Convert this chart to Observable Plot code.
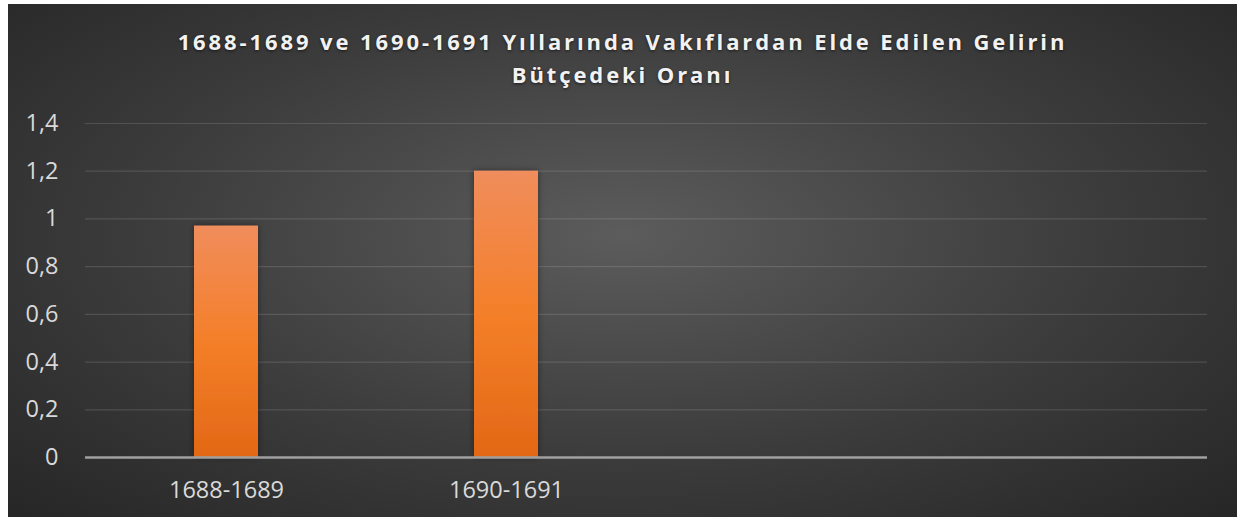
<!DOCTYPE html>
<html>
<head>
<meta charset="utf-8">
<script src="https://cdn.jsdelivr.net/npm/d3@7"></script>
<script src="https://cdn.jsdelivr.net/npm/@observablehq/plot@0.6"></script>
<style>
  html, body { margin: 0; padding: 0; background: #ffffff; }
  #frame {
    position: absolute; left: 8px; top: 4px; width: 1229px; height: 513px;
    background: radial-gradient(ellipse farthest-corner at 50% 45%, #5c5c5c 0%, #3c3c3c 55%, #262626 100%);
    overflow: hidden;
  }
  #title {
    height: 100px; box-sizing: border-box; padding-top: 21px;
    text-align: center; color: #f2f2f2;
    font-family: "Open Sans", sans-serif; font-weight: 700; font-size: 22px;
    letter-spacing: 2.9px; line-height: 33px;
    text-shadow: 0 1px 3px rgba(0,0,0,0.6);
  }
  #chart svg { display: block; background: transparent; }
</style>
</head>
<body>
<div id="frame">
  <div id="title">1688-1689 ve 1690-1691 Yıllarında Vakıflardan Elde Edilen Gelirin<br>Bütçedeki Oranı</div>
  <div id="chart"></div>
</div>
<script>
const categories = ["1688-1689", "1690-1691"];
const emptySlots = ["_slot3", "_slot4"];
const values = [0.97, 1.2];
const yTicks = [0, 0.2, 0.4, 0.6, 0.8, 1, 1.2, 1.4];

const data = categories.map((c, i) => ({category: c, value: values[i]}));

const chart = Plot.plot({
  width: 1229,
  height: 413,
  marginTop: 19,
  marginBottom: 60,
  marginLeft: 77,
  marginRight: 30,
  style: {background: "transparent", color: "#d9d9d9", fontFamily: "Open Sans, sans-serif", fontSize: "23.5px"},
  x: {domain: [...categories, ...emptySlots], paddingInner: 0.772, paddingOuter: 0.386, label: null},
  y: {domain: [0, 1.4], label: null},
  marks: [
    Plot.ruleY(yTicks.filter(d => d !== 0), {stroke: "#d9d9d9", strokeOpacity: 0.16, strokeWidth: 1.2}),
    Plot.barY(data, {x: "category", y: "value", fill: "url(#barGrad)", className: "bars"}),
    Plot.ruleY([0], {stroke: "#a0a0a0", strokeWidth: 2.5}),
    Plot.axisY({ticks: yTicks, tickSize: 0, tickPadding: 27, tickFormat: d => String(d).replace(".", ","), fill: "#d9d9d9"}),
    Plot.axisX({tickSize: 0, tickPadding: 24, tickFormat: d => d.startsWith("_") ? "" : d, fill: "#d9d9d9"})
  ]
});

const ns = "http://www.w3.org/2000/svg";
const defs = document.createElementNS(ns, "defs");
defs.innerHTML = `
  <linearGradient id="barGrad" x1="0" y1="0" x2="0" y2="1">
    <stop offset="0%" stop-color="#f08d5c"/>
    <stop offset="50%" stop-color="#f47f29"/>
    <stop offset="100%" stop-color="#e36816"/>
  </linearGradient>
  <filter id="barShadow" x="-30%" y="-10%" width="160%" height="120%">
    <feDropShadow dx="0" dy="0" stdDeviation="3" flood-color="#000" flood-opacity="0.45"/>
  </filter>`;
chart.insertBefore(defs, chart.firstChild);
chart.querySelectorAll(".bars rect, g.bars rect").forEach(r => r.setAttribute("filter", "url(#barShadow)"));
document.getElementById("chart").appendChild(chart);
</script>
</body>
</html>
